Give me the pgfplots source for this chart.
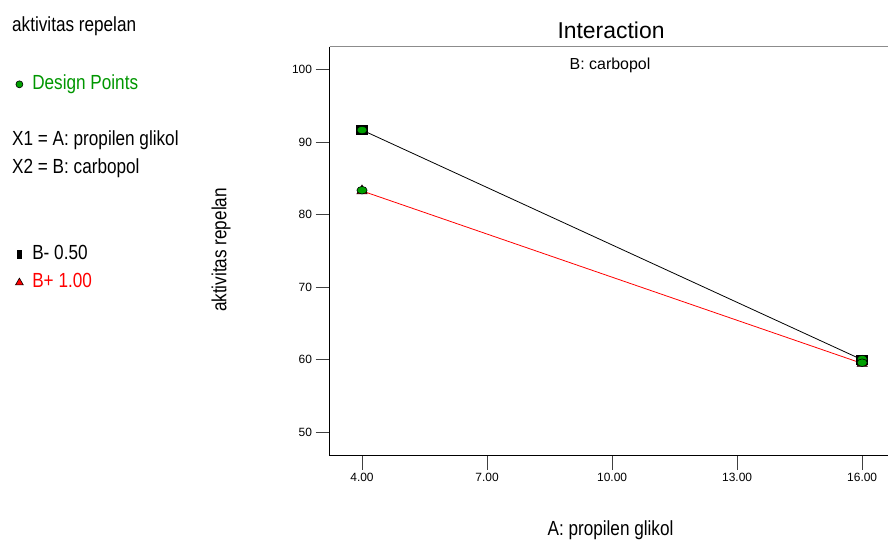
\documentclass[border=0pt]{standalone}
\usepackage{fontspec}
\setmainfont{Liberation Sans}
\newfontfamily\narrowfont[FakeStretch=0.84]{Liberation Sans}
\usepackage{pgfplots}
\pgfplotsset{compat=1.18}
\definecolor{dpgreen}{RGB}{0,160,0}
\definecolor{dptext}{RGB}{0,150,0}
\begin{document}
\begin{tikzpicture}[x=1bp,y=1bp]
\useasboundingbox (0,0) rectangle (888,542);
\begin{axis}[
  at={(329.5bp,86.3bp)}, anchor=south west,
  scale only axis, width=558.5bp, height=409bp,
  xmin=3.22, xmax=16.62, ymin=46.77, ymax=103.2,
  xtick={4,7,10,13,16}, ytick={50,60,70,80,90,100},
  xticklabel style={/pgf/number format/.cd, fixed, fixed zerofill, precision=2},
  /pgf/number format/assume math mode=true,
  ticklabel style={font=\fontsize{12}{14}\selectfont, black},
  tick align=outside, xtick pos=bottom, ytick pos=left,
  major tick length=14bp,
  tick style={black!75, line width=1bp},
  axis line style={draw=none},
  clip=false,
  legend image code/.code={\draw[#1] plot coordinates {(0bp,0bp)};},
  legend style={at={(rel axis cs:-0.5622,0.930)}, anchor=north west,
    draw=none, fill=none, inner sep=0pt, outer sep=0pt,
    font=\narrowfont\fontsize{20.5}{24}\selectfont,
    nodes={inner sep=0pt, text height=14bp, text depth=4bp},
    row sep=10.33bp, column sep=9bp},
  legend cell align=left,
]
\draw[black, line width=1bp] (rel axis cs:0,1) -- (rel axis cs:0,0) -- (rel axis cs:1,0);
\draw[black!45, line width=1bp] (rel axis cs:0,1) -- (rel axis cs:1,1);
\addplot[black, line width=0.8bp, mark=square*, mark size=5.5bp,
  mark options={fill=black, yscale=0.8, solid}, forget plot]
  coordinates {(4,91.7) (16,60.0)};
\addplot[red, line width=0.8bp, mark=triangle*, mark size=6bp,
  mark options={fill=red!85!black, draw=black, line width=0.5bp}, forget plot]
  coordinates {(4,83.3) (16,59.5)};
\addplot[only marks, mark=*, mark size=3.8bp,
  mark options={fill=dpgreen, draw=black, xscale=1.35, line width=0.6bp}, forget plot]
  coordinates {(4,91.7) (4,83.4) (16,60.1) (16,59.6)};
\addlegendimage{only marks, mark=*, mark size=3.5bp, mark options={fill=dpgreen, draw=black, line width=0.6bp}}
\addlegendentry{\textcolor{dptext}{Design Points}}
\addlegendimage{empty legend}\addlegendentry{}
\addlegendimage{empty legend}\addlegendentry{}
\addlegendimage{empty legend}\addlegendentry{}
\addlegendimage{empty legend}\addlegendentry{}
\addlegendimage{empty legend}\addlegendentry{}
\addlegendimage{only marks, mark=square*, mark size=3bp, mark options={fill=black, draw=black, xscale=0.7, yscale=1.4}}
\addlegendentry{B- 0.50}
\addlegendimage{only marks, mark=triangle*, mark size=4.5bp, mark options={fill=red, draw=black, line width=0.6bp}}
\addlegendentry{\textcolor{red}{B+ 1.00}}
\end{axis}
\node[anchor=base, font=\fontsize{23}{26}\selectfont] at (611,503.7) {Interaction};
\node[anchor=base, font=\fontsize{16}{19}\selectfont] at (610,472.7) {B: carbopol};
\node[rotate=90, font=\narrowfont\fontsize{20.5}{24}\selectfont] at (221,292) {aktivitas repelan};
\node[anchor=base, font=\narrowfont\fontsize{20.5}{24}\selectfont] at (610.5,6) {A: propilen glikol};
\node[anchor=base west, inner sep=0pt, font=\narrowfont\fontsize{20.5}{24}\selectfont] at (12,510.3) {aktivitas repelan};
\node[anchor=base west, inner sep=0pt, font=\narrowfont\fontsize{20.5}{24}\selectfont] at (12,396.3) {X1 = A: propilen glikol};
\node[anchor=base west, inner sep=0pt, font=\narrowfont\fontsize{20.5}{24}\selectfont] at (12,368.7) {X2 = B: carbopol};
\end{tikzpicture}
\end{document}
